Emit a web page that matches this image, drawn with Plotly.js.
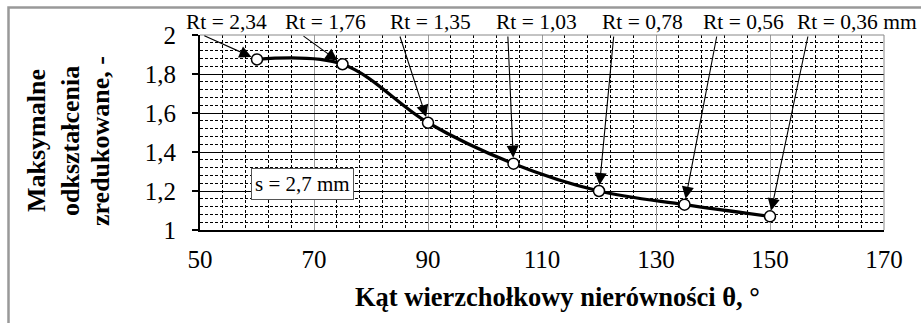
<!DOCTYPE html>
<html>
<head>
<meta charset="utf-8">
<script src="https://cdn.plot.ly/plotly-3.0.1.min.js"></script>
<style>html,body{margin:0;padding:0;background:#fff;}#chart{width:921px;height:323px;}</style>
</head>
<body>
<div id="chart"></div>
<script>
// Data
const angles = [60, 75, 90, 105, 120, 135, 150];
const strain = [1.875, 1.85, 1.55, 1.34, 1.2, 1.13, 1.07];
const xTicks = [50, 70, 90, 110, 130, 150, 170];
const yTicks = [1, 1.2, 1.4, 1.6, 1.8, 2];
const rtLabels = ['Rt = 2,34', 'Rt = 1,76', 'Rt = 1,35', 'Rt = 1,03', 'Rt = 0,78', 'Rt = 0,56', 'Rt = 0,36 mm'];
const labelX = [226, 325, 430, 536, 642, 743, 857];      // label centres (px)
const arrowTailX = [50.5, 67.9, 85, 104, 122.6, 140.7, 156.7]; // arrow tails (data x)
const xTitle = 'Kąt wierzchołkowy nierówności θ, °';
const yTitleLines = ['Maksymalne', 'odkształcenia', 'zredukowane, -'];
const boxText = 's = 2,7 mm';

const L = 200, R = 37, T = 35, B = 93, W = 921, H = 323;
const pw = W - L - R, ph = H - T - B;
const px2paperX = p => (p - L) / pw;
const px2paperY = p => (H - B - p) / ph;

const font = 'Liberation Serif';

const trace = {
  x: angles, y: strain, mode: 'lines+markers', type: 'scatter',
  line: {color: '#000', width: 3.2, shape: 'spline', smoothing: 1},
  marker: {size: 11, color: '#fff', line: {color: '#000', width: 1.5}},
  cliponaxis: false, hoverinfo: 'skip'
};

const annotations = [];
rtLabels.forEach((t, i) => {
  annotations.push({
    text: t, xref: 'paper', yref: 'paper', x: px2paperX(labelX[i]), y: px2paperY(22),
    showarrow: false, xanchor: 'center', yanchor: 'middle',
    font: {family: font, size: 21.5, color: '#000'}
  });
  annotations.push({
    text: '', x: angles[i], y: strain[i], xref: 'x', yref: 'y',
    ax: arrowTailX[i], ay: 2.0, axref: 'x', ayref: 'y',
    showarrow: true, arrowhead: 2, arrowsize: 2.2, arrowwidth: 1.1, arrowcolor: '#000',
    standoff: 6, startstandoff: 0
  });
});
const yTitleX = [36, 70, 100];
yTitleLines.forEach((t, i) => {
  annotations.push({
    text: '<b>' + t + '</b>', xref: 'paper', yref: 'paper',
    x: px2paperX(yTitleX[i]), y: px2paperY(141), textangle: -90,
    showarrow: false, xanchor: 'center', yanchor: 'middle',
    font: {family: font, size: 26, color: '#000'}
  });
});
annotations.push({
  text: '<b>' + xTitle + '</b>', xref: 'paper', yref: 'paper',
  x: px2paperX(557), y: px2paperY(297), showarrow: false,
  xanchor: 'center', yanchor: 'middle', font: {family: font, size: 26.5, color: '#000'}
});
annotations.push({
  text: boxText, xref: 'paper', yref: 'paper', x: px2paperX(302), y: px2paperY(183.5),
  showarrow: false, xanchor: 'center', yanchor: 'middle',
  bgcolor: '#fff', bordercolor: '#555', borderwidth: 1, borderpad: 3,
  font: {family: font, size: 21, color: '#000'}
});

const layout = {
  width: W, height: H, margin: {l: L, r: R, t: T, b: B},
  paper_bgcolor: '#fff', plot_bgcolor: '#fff', showlegend: false,
  separators: ', ',
  font: {family: font, size: 24, color: '#000'},
  xaxis: {
    range: [50, 170], tickmode: 'array', tickvals: xTicks,
    showgrid: true, gridcolor: '#9a9a9a', gridwidth: 1,
    minor: {dtick: 4, tick0: 50, showgrid: true, gridcolor: '#000', gridwidth: 1, griddash: '3px,2px'},
    showline: true, linecolor: '#000', linewidth: 2, zeroline: false,
    ticks: 'outside', ticklen: 6, tickcolor: 'rgba(0,0,0,0)',
    tickfont: {family: font, size: 25, color: '#000'}
  },
  yaxis: {
    range: [1, 2], tickmode: 'array', tickvals: yTicks,
    showgrid: true, gridcolor: '#000', gridwidth: 1,
    minor: {dtick: 0.04, tick0: 1, showgrid: true, gridcolor: '#000', gridwidth: 1, griddash: '3px,2px'},
    showline: true, linecolor: '#000', linewidth: 2, zeroline: false,
    ticks: 'outside', ticklen: 6, tickcolor: '#000', tickwidth: 1.5, ticklabelstandoff: 11,
    tickfont: {family: font, size: 25, color: '#000'}
  },
  shapes: [
    {type: 'line', xref: 'paper', yref: 'paper', x0: 0, x1: 1, y0: 1, y1: 1, line: {color: '#888', width: 1}},
    {type: 'line', xref: 'paper', yref: 'paper', x0: 1, x1: 1, y0: 0, y1: 1, line: {color: '#888', width: 1}},
    {type: 'rect', xref: 'paper', yref: 'paper', x0: px2paperX(8.5), x1: 1.3, y0: -0.6, y1: px2paperY(7.5),
     line: {color: '#999', width: 2.5}, layer: 'below'}
  ],
  annotations: annotations
};

Plotly.newPlot('chart', [trace], layout, {displayModeBar: false, staticPlot: true});
</script>
</body>
</html>
